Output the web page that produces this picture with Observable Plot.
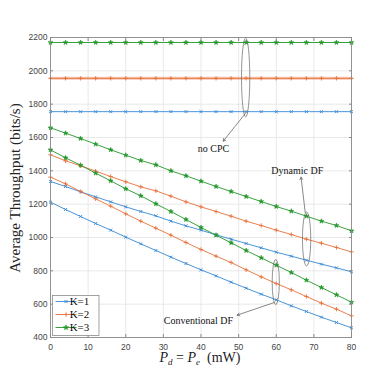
<!DOCTYPE html>
<html>
<head>
<meta charset="utf-8">
<script src="https://cdn.jsdelivr.net/npm/d3@7"></script>
<script src="https://cdn.jsdelivr.net/npm/@observablehq/plot@0.6"></script>
<style>
  html, body { margin: 0; padding: 0; background: #fff; }
  #chart { width: 388px; height: 388px; }
</style>
</head>
<body>
<div id="chart"></div>
<script>
// ---- data ----
const power = [0, 4, 8, 12, 16, 20, 24, 28, 32, 36, 40, 44, 48, 52, 56, 60, 64, 68, 72, 76, 80];
const noCPC_K1 = [1755,1755,1755,1755,1755,1755,1755,1755,1755,1755,1755,1755,1755,1755,1755,1755,1755,1755,1755,1755,1755];
const noCPC_K2 = [1955,1955,1955,1955,1955,1955,1955,1955,1955,1955,1955,1955,1955,1955,1955,1955,1955,1955,1955,1955,1955];
const noCPC_K3 = [2170,2170,2170,2170,2170,2170,2170,2170,2170,2170,2170,2170,2170,2170,2170,2170,2170,2170,2170,2170,2170];
const dyn_K1 = [1336,1306,1274,1244,1214,1184,1156,1130,1098,1070,1044,1016,990,964,938,912,888,864,840,818,794];
const dyn_K2 = [1496,1460,1430,1398,1366,1334,1304,1280,1248,1214,1184,1156,1128,1098,1072,1044,1018,990,966,940,914];
const dyn_K3 = [1658,1626,1594,1560,1526,1494,1462,1436,1400,1370,1338,1306,1276,1246,1216,1186,1158,1128,1098,1072,1040];
const conv_K1 = [1212,1168,1126,1084,1044,1002,962,922,882,844,806,770,732,696,660,626,590,556,522,490,458];
const conv_K2 = [1362,1322,1276,1232,1188,1142,1098,1056,1014,970,928,888,850,806,764,724,686,646,606,570,530];
const conv_K3 = [1526,1478,1434,1386,1340,1292,1250,1202,1156,1108,1060,1014,968,922,878,834,790,744,700,656,612];

const seriesNames = ["K=1", "K=2", "K=3"];
const seriesColors = ["#3589d4", "#e8703a", "#23972a"];
const seriesSymbols = ["times", "plus", "star"];

const xTicks = [0, 10, 20, 30, 40, 50, 60, 70, 80];
const yTicks = [400, 600, 800, 1000, 1200, 1400, 1600, 1800, 2000, 2200];

// annotations (data coordinates)
const annoTexts = [
  {label: "no CPC", x: 43.3, y: 1530},
  {label: "Dynamic DF", x: 65.6, y: 1400},
  {label: "Conventional DF", x: 39.3, y: 500}
];
const annoArrows = [
  {x1: 51.8, y1: 1744, x2: 45.9, y2: 1578},
  {x1: 67.7, y1: 1150, x2: 66.6, y2: 1362},
  {x1: 59.5, y1: 610, x2: 49.6, y2: 534}
];
const annoEllipses = [
  {cx: 52.0, cy: 1957, rx: 1.1, ry: 237},
  {cx: 68.2, cy: 988, rx: 1.1, ry: 162},
  {cx: 60.0, cy: 730, rx: 0.95, ry: 135}
];

// ---- build table ----
const groups = [
  {group: "noCPC", vals: [noCPC_K1, noCPC_K2, noCPC_K3]},
  {group: "dyn", vals: [dyn_K1, dyn_K2, dyn_K3]},
  {group: "conv", vals: [conv_K1, conv_K2, conv_K3]}
];
const rows = [];
groups.forEach(g => g.vals.forEach((arr, k) => arr.forEach((v, i) => rows.push({
  x: power[i], y: v, K: seriesNames[k], id: g.group + k, group: g.group
}))));

const color = {domain: seriesNames, range: seriesColors};
const serif = "'Liberation Serif', 'Times New Roman', serif";
const sans = "'Liberation Sans', Arial, sans-serif";

const plot = Plot.plot({
  width: 388,
  height: 388,
  marginLeft: 50,
  marginRight: 37,
  marginTop: 37,
  marginBottom: 51,
  style: {fontFamily: sans, fontSize: "8.5px", color: "#444", background: "#fff"},
  x: {domain: [0, 80]},
  y: {domain: [400, 2200]},
  color,
  symbol: {domain: seriesNames, range: seriesSymbols},
  marks: [
    Plot.gridX(xTicks, {stroke: "#e3e3e3", strokeOpacity: 1, strokeWidth: 0.8}),
    Plot.gridY(yTicks, {stroke: "#e3e3e3", strokeOpacity: 1, strokeWidth: 0.8}),
    Plot.line(rows.filter(d => d.id === "noCPC1"), {x: "x", y: "y", z: "id", stroke: "K", strokeWidth: 3, strokeOpacity: 0.4}),
    Plot.line(rows, {x: "x", y: "y", z: "id", stroke: "K", strokeWidth: 0.9}),
    Plot.dot(rows.filter(d => d.K !== "K=3"), {x: "x", y: "y", stroke: "K", fill: "none", symbol: "K", r: 1.5, strokeWidth: 0.9}),
    Plot.dot(rows.filter(d => d.K === "K=3"), {x: "x", y: "y", stroke: "K", fill: "K", symbol: "K", r: 1.5, strokeWidth: 0.6}),
    Plot.frame({stroke: "#8a8a8a", strokeWidth: 0.9}),
    Plot.axisX(xTicks, {anchor: "bottom", tickSize: -3, tickPadding: 9, stroke: "#8a8a8a", label: null, fill: "#444", tickFormat: d3.format("d")}),
    Plot.axisX(xTicks, {anchor: "top", tickSize: -3, tickFormat: () => "", stroke: "#8a8a8a", label: null}),
    Plot.axisY(yTicks, {anchor: "left", tickSize: -3, tickPadding: 6, stroke: "#8a8a8a", label: null, fill: "#444", tickFormat: d3.format("d")}),
    Plot.axisY(yTicks, {anchor: "right", tickSize: -3, tickFormat: () => "", stroke: "#8a8a8a", label: null}),
    Plot.arrow(annoArrows, {x1: "x1", y1: "y1", x2: "x2", y2: "y2", stroke: "#555", strokeWidth: 0.7, headLength: 6, bend: 0}),
    Plot.text(annoTexts, {x: "x", y: "y", text: "label", fontFamily: serif, fontSize: 10, fill: "#111"})
  ]
});

const svg = d3.select(plot);
const sx = plot.scale("x"), sy = plot.scale("y");

// ellipses via plot scales
svg.append("g").selectAll("ellipse").data(annoEllipses).join("ellipse")
  .attr("cx", d => sx.apply(d.cx))
  .attr("cy", d => sy.apply(d.cy))
  .attr("rx", d => Math.abs(sx.apply(d.cx + d.rx) - sx.apply(d.cx)))
  .attr("ry", d => Math.abs(sy.apply(d.cy + d.ry) - sy.apply(d.cy)))
  .attr("fill", "none").attr("stroke", "#666").attr("stroke-width", 0.7);

// legend
const lg = svg.append("g").attr("transform", "translate(52.5,295.5)");
lg.append("rect").attr("width", 46.5).attr("height", 40).attr("fill", "#fff").attr("stroke", "#8a8a8a").attr("stroke-width", 0.8);
seriesNames.forEach((name, i) => {
  const yy = 6 + i * 13;
  lg.append("line").attr("x1", 3).attr("x2", 24).attr("y1", yy).attr("y2", yy)
    .attr("stroke", seriesColors[i]).attr("stroke-width", 0.9);
  const sym = [d3.symbolTimes, d3.symbolPlus, d3.symbolStar][i];
  lg.append("path").attr("d", d3.symbol(sym, i === 2 ? 8 : 8)())
    .attr("transform", `translate(13.5,${yy})`)
    .attr("stroke", seriesColors[i]).attr("stroke-width", i === 2 ? 0.6 : 0.9)
    .attr("fill", i === 2 ? seriesColors[i] : "none");
  lg.append("text").attr("x", 27).attr("y", yy).attr("dy", "0.35em")
    .attr("font-family", serif).attr("font-size", 11).attr("fill", "#111").text(name);
});

// axis titles
svg.append("text")
  .attr("transform", "translate(20,188) rotate(-90)")
  .attr("text-anchor", "middle")
  .attr("font-family", serif).attr("font-size", 15).attr("fill", "#222")
  .text("Average Throughput (bits/s)");

const xl = svg.append("text").attr("x", 200).attr("y", 362).attr("text-anchor", "middle")
  .attr("font-family", serif).attr("font-size", 14).attr("fill", "#222");
xl.append("tspan").attr("font-style", "italic").text("P");
xl.append("tspan").attr("font-style", "italic").attr("font-size", 9).attr("dy", 3).text("d");
xl.append("tspan").attr("dy", -3).text(" = ");
xl.append("tspan").attr("font-style", "italic").text("P");
xl.append("tspan").attr("font-style", "italic").attr("font-size", 9).attr("dy", 3).text("e");
xl.append("tspan").attr("dy", -3).text("  (mW)");

document.getElementById("chart").appendChild(plot);
</script>
</body>
</html>
